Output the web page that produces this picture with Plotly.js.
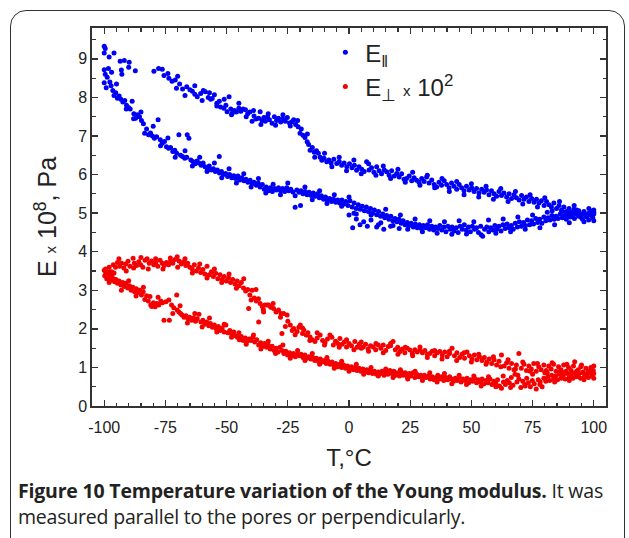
<!DOCTYPE html>
<html><head><meta charset="utf-8">
<script src="https://cdn.plot.ly/plotly-3.0.1.min.js"></script>
<style>
html,body{margin:0;padding:0;background:#fff;width:629px;height:538px;overflow:hidden;}
#frame{position:absolute;left:10px;top:10px;width:615px;height:580px;border:1.5px solid #333;border-radius:16px;box-sizing:border-box;}
#chart{position:absolute;left:0;top:0;width:629px;height:538px;}
#caption{position:absolute;left:18px;top:478px;width:605px;font-family:'Open Sans',sans-serif;font-size:19.5px;line-height:26px;color:#222;white-space:nowrap;letter-spacing:-0.2px;}
#caption b{font-weight:700;}
</style></head>
<body>
<div id="frame"></div>
<div id="chart"></div>
<div id="caption"><b>Figure 10 Temperature variation of the Young modulus.</b> It was<br>measured parallel to the pores or perpendicularly.</div>
<script>
// E parallel (x1e8 Pa): heating branch (lower) [T, E]
const parallelHeating = [[-100,8.72],[-100,8.38],[-99.6,8.6],[-99.2,8.25],[-98.8,8.52],[-98.3,8.75],[-97.7,8.4],[-97.2,8.3],[-96.5,8.18],[-96,8.05],[-95.3,8.12],[-94.6,7.98],[-93.9,8.04],[-93.2,7.95],[-92.4,7.88],[-91.6,7.92],[-90.9,7.8],[-90.1,7.74],[-89.4,7.7],[-88.6,7.9],[-87.9,7.58],[-87.2,7.46],[-86.4,7.55],[-85.6,7.5],[-84.8,7.4],[-84,7.32],[-83.5,7.07],[-82.7,7.18],[-81.9,7.03],[-81.1,7.08],[-80.3,7.0],[-79.5,6.94],[-78.6,6.98],[-78,7.42],[-77.1,6.9],[-76.3,6.81],[-75.4,6.86],[-74.6,6.72],[-73.7,6.68],[-72.9,6.7],[-72,6.6],[-71.2,6.63],[-70.4,6.55],[-69.5,7.03],[-68.8,6.5],[-68,6.47],[-67.1,6.42],[-66.3,6.45],[-66.1,7.03],[-65.4,6.94],[-64.6,6.38],[-63.8,6.34],[-62.9,6.28],[-62.1,6.35],[-61.3,6.3],[-60.4,6.24],[-59.6,6.3],[-58.8,6.2],[-57.9,6.16],[-57.1,6.22],[-56.3,6.12],[-55.4,6.15],[-54.6,6.08],[-53.8,6.12],[-53,6.47],[-52.9,6.04],[-52.1,6.08],[-51.3,6.0],[-50.4,6.03],[-49.6,5.95],[-48.8,6.0],[-47.9,5.92],[-47.1,5.97],[-46.3,5.9],[-45.4,5.96],[-44.6,5.86],[-43.8,5.92],[-42.9,5.84],[-42.1,5.88],[-41.3,5.8],[-40.4,5.85],[-39.6,5.76],[-38.8,5.8],[-37.9,5.72],[-37.1,5.78],[-36.3,5.68],[-35.4,5.74],[-34.6,5.62],[-33.8,5.68],[-32.9,5.58],[-32.1,5.66],[-31.3,5.56],[-30.4,5.64],[-29.6,5.6],[-28.8,5.66],[-27.9,5.58],[-27.1,5.64],[-26.3,5.56],[-25.4,5.66],[-24.6,5.58],[-23.8,5.62],[-22.9,5.55],[-22,5.15],[-21.3,5.6],[-20.4,5.54],[-19.8,5.2],[-19.6,5.58],[-18.8,5.5],[-17.9,5.56],[-17.1,5.48],[-16.3,5.54],[-15.4,5.46],[-14.6,5.52],[-13.8,5.44],[-12.9,5.5],[-12.1,5.4],[-11.3,5.45],[-10.4,5.36],[-9.6,5.42],[-8.8,5.32],[-7.9,5.38],[-7.1,5.3],[-6.3,5.36],[-5.4,5.28],[-4.6,5.34],[-3.8,5.26],[-2.9,5.34],[-2.1,5.24],[-1.3,5.3],[-0.4,5.2],[0.4,5.32],[1.3,5.16],[2.1,5.26],[2.9,5.12],[3.8,5.22],[4.6,5.1],[5.4,5.18],[6.3,5.06],[7.1,5.16],[7.9,5.04],[8.8,5.12],[9.6,5.0],[10.4,5.08],[11.3,4.96],[12.1,5.04],[12.9,4.92],[13.8,4.98],[14.6,4.88],[15.4,4.94],[16.3,4.84],[17.1,4.92],[17.9,4.8],[18.8,4.86],[19.6,4.78],[20.4,4.84],[21.3,4.74],[22.1,4.8],[22.9,4.7],[23.8,4.76],[24.6,4.68],[25.4,4.74],[26.3,4.64],[27.1,4.72],[27.9,4.62],[28.8,4.7],[29.6,4.6],[30.4,4.68],[31.3,4.62],[32.1,4.7],[32.9,4.58],[33.8,4.66],[34.6,4.56],[35.4,4.64],[36.3,4.6],[37.1,4.68],[37.9,4.56],[38.8,4.64],[39.6,4.52],[40.4,4.66],[41.3,4.58],[42.1,4.64],[42.9,4.54],[43.8,4.62],[44.6,4.5],[45.4,4.66],[46.3,4.58],[47.1,4.7],[47.9,4.56],[48.8,4.64],[49.6,4.52],[50.4,4.66],[51.3,4.58],[52.1,4.62],[52.9,4.5],[53.8,4.66],[54.6,4.4],[55.4,4.58],[56.3,4.64],[57.1,4.52],[57.9,4.62],[58.8,4.56],[59.6,4.68],[60.4,4.58],[61.3,4.66],[62.1,4.54],[62.9,4.7],[63.8,4.6],[64.6,4.72],[65.4,4.62],[66.3,4.68],[67.1,4.58],[67.9,4.74],[68.8,4.64],[69.6,4.78],[70.4,4.66],[71.3,4.76],[72.1,4.68],[72.9,4.82],[73.8,4.7],[74.6,4.8],[75.4,4.72],[76.3,4.86],[77.1,4.76],[77.9,4.84],[78.8,4.74],[79.6,4.9],[80.4,4.8],[81.3,4.88],[82.1,4.82],[82.9,4.94],[83.8,4.84],[84.6,4.92],[85.4,4.86],[86.3,4.98],[87.1,4.88],[87.9,4.94],[88.8,4.84],[89.6,5.0],[90.4,4.9],[91.3,4.96],[92.1,4.86],[92.9,5.02],[93.8,4.92],[94.6,4.98],[95.4,4.84],[96.3,5.0],[97.1,4.9],[97.9,4.82],[98.8,4.96],[99.6,4.88],[100,5.02],[100,4.8],
[1.5,4.62],[4.5,4.7],[7.5,4.66],[11.3,4.64],[14.2,4.58],[17,4.66],[20.5,4.6],[3,4.85],[9,4.82],[13,4.75],[0,4.95],[2,5.0]];
const parallelHeatingSpread = [[-97,8.65],[-95,8.35],[-91,7.7],[-88,7.45],[-85,7.62],[-80,7.25],[-77,6.75],[-74,6.95],[-71,6.45],[-67,6.62],[-64,6.22],[-61,6.45],[-58,6.08],[-55,6.3],[-52,5.92],[-49,6.15],[-46,5.78],[-43,6.02],[-40,5.68],[-37,5.9],[-34,5.52],[-31,5.75],[-28,5.48],[-25,5.78],[-22,5.45],[-18,5.68],[-15,5.35],[-12,5.58],[-9,5.25],[-6,5.48],[-3,5.18],[0,5.42],[3,4.98],[6,4.78],[9,4.95],[12,4.7],[15,5.1],[18,4.68],[21,4.95],[24,4.58],[27,4.85],[30,4.52],[33,4.8],[36,4.48],[39,4.78],[42,4.45],[45,4.8],[48,4.46],[51,4.78],[54,4.44],[57,4.82],[60,4.48],[63,4.85],[66,4.52],[69,4.9],[72,4.58],[75,4.95],[78,4.62],[81,5.02],[84,4.7],[87,5.05],[90,4.75],[93,5.08],[96,4.78],[99,5.05]];

// E parallel: cooling branch (upper) [T, E]
const parallelCooling = [[-100,9.33],[-100,9.15],[-99.6,9.27],[-96,9.15],[-93.5,8.94],[-93,8.71],[-92.8,8.6],[-91.8,8.96],[-89.8,8.91],[-87.3,8.69],[-79.7,8.68],[-77.8,8.75],[-76.3,8.73],[-75.6,8.57],[-73.6,8.5],[-72.3,8.42],[-71,8.45],[-70.5,8.24],[-69.2,8.35],[-68,8.22],[-66.3,8.28],[-65,8.2],[-64,8.16],[-63,8.08],[-62,8.02],[-60.6,8.1],[-59.5,8.18],[-58.7,8.15],[-57.5,8.0],[-56.5,7.95],[-55.9,7.97],[-55,8.07],[-54,7.85],[-53,7.9],[-52.5,7.75],[-51.1,7.72],[-50.3,7.8],[-49.8,7.63],[-49,8.02],[-48.3,7.7],[-47.7,7.59],[-46.8,7.66],[-46,7.62],[-45,7.72],[-44.2,7.64],[-43.3,7.7],[-42.3,7.68],[-41.4,7.58],[-40.5,7.62],[-39.6,7.38],[-38.8,7.52],[-38,7.44],[-36.9,7.46],[-36.3,7.63],[-35.5,7.4],[-34.8,7.48],[-34.2,7.38],[-33.3,7.5],[-32.5,7.42],[-31.4,7.33],[-30.5,7.5],[-29.6,7.4],[-28.8,7.46],[-27.9,7.36],[-27,7.44],[-26,7.38],[-25.2,7.48],[-24.3,7.34],[-23.3,7.37],[-22.6,7.42],[-21.8,7.3],[-20.8,7.24],[-20,7.07],[-19.5,7.18],[-18.8,7.02],[-18,6.96],[-17.1,6.85],[-16.5,6.78],[-15.9,6.63],[-15,6.7],[-14.2,6.58],[-13.3,6.62],[-12.5,6.55],[-11.8,6.45],[-11.1,6.37],[-10.2,6.42],[-9.1,6.33],[-8.2,6.38],[-7.3,6.3],[-6.2,6.4],[-5,6.29],[-4,6.34],[-3,6.24],[-2,6.3],[-0.9,6.2],[0.2,6.28],[1.2,6.18],[2.2,6.24],[3.1,6.11],[4.1,6.2],[5.2,6.14],[6.2,6.08],[7.2,6.33],[8.2,6.12],[9.2,6.18],[10.2,6.06],[11.3,6.2],[12.3,6.1],[13.3,6.02],[14.4,6.12],[15.4,6.07],[16.4,5.98],[17.4,6.1],[18.5,5.96],[19.5,6.03],[20.5,5.94],[21.5,6.02],[22.5,5.88],[23.5,5.9],[24.6,5.96],[25.6,5.84],[26.6,5.92],[27.6,5.85],[28.6,5.8],[29.7,5.9],[30.7,5.82],[31.7,5.94],[32.7,5.78],[33.8,5.86],[34.8,5.74],[35.8,5.68],[36.8,5.8],[37.8,5.72],[38.9,5.84],[39.9,5.74],[40.9,5.66],[41.9,5.78],[42.9,5.7],[44,5.62],[45,5.74],[46,5.66],[47,5.58],[48,5.7],[49.1,5.6],[50.1,5.66],[51.1,5.56],[52.1,5.64],[53.1,5.52],[54.2,5.62],[55.2,5.54],[56.2,5.6],[57.2,5.48],[58.2,5.58],[59.3,5.5],[60.3,5.44],[61.3,5.56],[62.3,5.46],[63.3,5.52],[64.4,5.42],[65.4,5.5],[66.4,5.38],[67.4,5.48],[68.4,5.4],[69.5,5.34],[70.5,5.46],[71.5,5.36],[72.5,5.42],[73.5,5.3],[74.6,5.38],[75.6,5.28],[76.6,5.36],[77.6,5.26],[78.6,5.32],[79.7,5.2],[80.7,5.3],[81.7,5.22],[82.7,5.16],[83.7,5.26],[84.8,5.12],[85.8,5.2],[86.8,5.08],[87.8,5.16],[88.8,5.04],[89.9,5.12],[90.9,5.02],[91.9,5.1],[92.9,4.98],[93.9,5.06],[95,4.96],[96,5.04],[97,4.92],[98,5.0],[99,4.94],[100,5.08],[100,4.98]];
const parallelCoolingSpread = [[-98,9.05],[-90,8.78],[-74,8.62],[-70,8.55],[-67,8.05],[-63,8.3],[-60,7.92],[-57,8.12],[-54,7.78],[-51,7.95],[-48,7.55],[-45,7.85],[-42,7.5],[-39,7.66],[-36,7.3],[-33,7.58],[-30,7.28],[-27,7.55],[-24,7.26],[-21,7.4],[-17,7.05],[-14,6.45],[-10,6.55],[-7,6.2],[-4,6.45],[-1,6.1],[2,6.38],[5,6.02],[8,6.28],[11,5.98],[14,6.22],[17,5.9],[20,6.14],[23,5.8],[26,6.06],[29,5.72],[32,5.98],[35,5.66],[38,5.9],[41,5.56],[44,5.82],[47,5.48],[50,5.76],[53,5.42],[56,5.7],[59,5.36],[62,5.64],[65,5.3],[68,5.56],[71,5.24],[74,5.48],[77,5.16],[80,5.4],[83,5.06],[86,5.3],[89,4.95],[92,5.2],[95,4.88],[98,5.12]];

// E perpendicular x 100 (x1e8 Pa): heating branch (lower) [T, E]
const perpHeating = [[-100,3.52],[-99.8,3.38],[-99.4,3.46],[-99,3.3],[-98.6,3.42],[-98.2,3.34],[-97.8,3.48],[-97.4,3.26],[-96.9,3.38],[-96.4,3.3],[-95.8,3.22],[-95.2,3.28],[-94.6,3.18],[-93.9,3.24],[-93.2,3.14],[-92.5,3.2],[-91.8,3.1],[-91.1,3.18],[-90.4,3.06],[-89.7,3.12],[-89,3.0],[-88.3,3.08],[-87.6,2.96],[-86.9,3.04],[-86.2,2.94],[-85.5,3.0],[-84.8,2.88],[-84.1,2.96],[-83.4,2.76],[-82.7,2.86],[-82,2.72],[-81.3,2.84],[-80.6,2.58],[-79.9,2.68],[-79.2,2.57],[-78.5,2.66],[-77.7,2.62],[-76.9,2.72],[-76.2,2.68],[-75.6,2.22],[-74.8,2.7],[-73.6,2.75],[-73.4,2.22],[-72.5,2.62],[-71.6,2.55],[-70.4,2.88],[-70.2,2.49],[-69.5,2.44],[-68.8,2.4],[-68.2,2.36],[-67.4,2.3],[-66.6,2.34],[-65.8,2.26],[-65.1,2.3],[-64.3,2.22],[-63.5,2.28],[-62.7,2.2],[-62,2.26],[-61.3,2.38],[-60.5,2.18],[-59.7,2.22],[-58.9,2.12],[-58.1,2.18],[-57.3,2.08],[-56.6,2.14],[-55.8,2.04],[-55,2.1],[-54.2,2.0],[-53.4,2.06],[-52.6,1.96],[-51.8,2.02],[-51,1.92],[-50.3,2.1],[-49.5,1.9],[-48.7,1.96],[-47.9,1.86],[-47.1,1.92],[-46.3,1.82],[-45.6,1.78],[-44.8,1.72],[-44,1.8],[-43.2,1.7],[-42.4,1.76],[-41.6,1.68],[-40.8,1.74],[-40,1.7],[-39.3,1.78],[-38.5,1.66],[-37.7,1.72],[-36.9,1.58],[-36.1,1.64],[-35.3,1.54],[-34.5,1.62],[-33.7,1.52],[-33,1.58],[-32.2,1.48],[-31.4,1.55],[-30.6,1.44],[-29.8,1.5],[-29,1.4],[-28.2,1.52],[-27.4,1.44],[-26.6,1.36],[-25.8,1.42],[-25.1,1.32],[-24.3,1.38],[-23.5,1.3],[-22.7,1.36],[-21.9,1.28],[-21.1,1.34],[-20.3,1.3],[-19.6,1.34],[-18.8,1.26],[-18,1.32],[-17.2,1.24],[-16.4,1.28],[-15.6,1.22],[-14.8,1.26],[-14,1.18],[-13.3,1.24],[-12.5,1.16],[-11.7,1.22],[-10.9,1.14],[-10.1,1.18],[-9.3,1.1],[-8.5,1.16],[-7.7,1.08],[-6.9,1.14],[-6.1,1.04],[-5.4,1.1],[-4.6,1.02],[-3.8,1.08],[-3,1.0],[-2.2,1.06],[-1.4,0.98],[-0.6,1.04],[0.2,0.96],[1,1.02],[1.8,0.94],[2.5,1.0],[3.3,0.92],[4.1,0.98],[4.9,0.9],[5.7,0.96],[6.5,0.88],[7.3,0.94],[8,0.86],[8.8,0.92],[9.6,0.84],[10.4,0.9],[11.2,0.82],[12,0.88],[12.8,0.84],[13.5,0.9],[14.3,0.8],[15.1,0.88],[15.9,0.82],[16.7,0.92],[17.5,0.84],[18.3,0.9],[19,0.8],[19.8,0.86],[20.6,0.78],[21.4,0.88],[22.2,0.8],[23,0.86],[23.8,0.76],[24.6,0.84],[25.3,0.78],[26.1,0.86],[26.9,0.74],[27.7,0.82],[28.5,0.76],[29.3,0.8],[30.1,0.72],[30.8,0.8],[31.6,0.74],[32.4,0.78],[33.2,0.7],[34,0.76],[34.8,0.68],[35.6,0.74],[36.3,0.8],[37.1,0.7],[37.9,0.76],[38.7,0.66],[39.5,0.74],[40.3,0.68],[41.1,0.76],[41.9,0.7],[42.7,0.64],[43.4,0.72],[44.2,0.66],[45,0.74],[45.8,0.62],[46.6,0.7],[47.4,0.66],[48.2,0.72],[48.9,0.6],[49.7,0.68],[50.5,0.64],[51.3,0.72],[52.1,0.6],[52.9,0.68],[53.7,0.62],[54.4,0.7],[55.2,0.58],[56,0.66],[56.8,0.6],[57.6,0.7],[58.4,0.56],[59.2,0.64],[60,0.58],[60.7,0.68],[61.5,0.52],[62.3,0.46],[63.1,0.62],[63.9,0.56],[64.7,0.66],[65.5,0.6],[66.3,0.74],[67,0.54],[67.8,0.82],[68.6,0.62],[69.4,0.7],[70.2,0.48],[71,0.64],[71.8,0.56],[72.6,0.72],[73.3,0.6],[74.1,0.5],[74.9,0.66],[75.7,0.58],[76.5,0.44],[77.3,0.68],[78.1,0.62],[78.9,0.5],[79.6,0.72],[80.4,0.64],[81.2,0.76],[82,0.66],[82.8,0.8],[83.6,0.7],[84.4,0.78],[85.2,0.68],[85.9,0.82],[86.7,0.72],[87.5,0.8],[88.3,0.7],[89.1,0.84],[89.9,0.74],[90.7,0.82],[91.5,0.72],[92.2,0.86],[93,0.76],[93.8,0.82],[94.6,0.72],[95.4,0.86],[96.2,0.76],[97,0.82],[97.8,0.74],[98.5,0.88],[99.3,0.78],[100,0.84],[100,0.72]];
const perpHeatingSpread = [[-98,3.2],[-96,3.45],[-93,3.0],[-90,3.25],[-87,2.85],[-84,3.08],[-81,2.62],[-78,2.82],[-72,2.4],[-69,2.6],[-66,2.15],[-63,2.4],[-60,2.05],[-57,2.28],[-54,1.92],[-51,2.12],[-48,1.78],[-45,1.9],[-42,1.6],[-39,1.84],[-36,1.48],[-33,1.68],[-30,1.36],[-27,1.58],[-24,1.24],[-21,1.44],[-18,1.18],[-15,1.36],[-12,1.08],[-9,1.26],[-6,0.98],[-3,1.16],[0,0.9],[3,1.08],[6,0.82],[9,1.0],[12,0.78],[15,0.96],[18,0.74],[21,0.94],[24,0.7],[27,0.9],[30,0.66],[33,0.86],[36,0.62],[39,0.84],[42,0.58],[45,0.8],[48,0.56],[51,0.78],[54,0.52],[57,0.76],[60,0.5],[63,0.78],[66,0.48],[69,0.8],[72,0.52],[75,0.82],[78,0.56],[81,0.86],[84,0.62],[87,0.88],[90,0.66],[93,0.9],[96,0.68],[99,0.92]];

// E perpendicular x 100: cooling branch (upper) [T, E]
const perpCooling = [[-99.5,3.55],[-98,3.6],[-97,3.48],[-96.3,3.66],[-95.4,3.6],[-94.6,3.72],[-93.7,3.62],[-92.9,3.7],[-92,3.58],[-91.2,3.68],[-90.3,3.75],[-89.5,3.62],[-88.2,3.83],[-87.7,3.7],[-86.8,3.64],[-85.9,3.74],[-85.1,3.66],[-84.2,3.6],[-83.3,3.78],[-82.5,3.82],[-81.6,3.7],[-80.7,3.76],[-79.8,3.66],[-79,3.72],[-78.1,3.62],[-77.2,3.78],[-76.3,3.7],[-75.5,3.64],[-74.6,3.72],[-73.7,3.66],[-72.9,3.76],[-72,3.7],[-71.1,3.8],[-70.2,3.87],[-69.4,3.76],[-68.5,3.68],[-67.6,3.74],[-66.7,3.64],[-65.9,3.7],[-65,3.6],[-64.1,3.56],[-63.2,3.66],[-62.4,3.5],[-61.5,3.58],[-60.6,3.46],[-59.7,3.54],[-58.9,3.42],[-58,3.62],[-57.1,3.4],[-56.2,3.48],[-55.4,3.36],[-54.5,3.44],[-53.6,3.3],[-52.7,3.4],[-51.9,3.28],[-51,3.36],[-50.1,3.24],[-49.2,3.32],[-48.4,3.2],[-47.5,3.28],[-46.6,3.16],[-45.7,3.24],[-44.9,3.12],[-44,3.2],[-43.1,3.06],[-42.2,2.98],[-41.4,3.02],[-41,2.53],[-40.5,2.88],[-39.6,3.0],[-38.7,2.8],[-37.9,2.72],[-37,2.78],[-36.9,2.18],[-36.3,2.66],[-35.4,2.58],[-34.9,2.44],[-34.4,2.62],[-33.5,2.62],[-32.9,2.62],[-32,2.56],[-30.8,2.53],[-29.8,2.44],[-28.8,2.49],[-27.8,2.4],[-27.4,1.88],[-26.7,2.4],[-26,2.06],[-25.3,2.36],[-24,2.1],[-23.2,1.96],[-22.6,2.01],[-21.2,1.93],[-20.5,2.04],[-19.9,2.1],[-19,1.88],[-18.5,1.97],[-17.5,1.84],[-16.8,1.9],[-15.9,1.79],[-15,1.72],[-13.9,1.67],[-13,1.76],[-11.8,1.84],[-10.8,1.7],[-9.8,1.64],[-8.8,1.74],[-7.8,1.84],[-6.4,1.58],[-5.5,1.68],[-4.6,1.62],[-3.7,1.75],[-2.8,1.6],[-1.9,1.66],[-1,1.53],[0,1.62],[1,1.56],[2.4,1.67],[3.3,1.52],[4.2,1.6],[5,1.5],[5.8,1.53],[6.8,1.6],[7.8,1.48],[8.8,1.56],[9.9,1.53],[10.9,1.46],[12,1.58],[13,1.5],[14,1.58],[15,1.44],[16,1.54],[17,1.62],[18,1.67],[18.9,1.46],[19.9,1.52],[20.8,1.41],[21.8,1.48],[22.8,1.38],[23.8,1.5],[24.9,1.45],[25.9,1.36],[26.9,1.46],[27.9,1.4],[29,1.53],[30,1.38],[31,1.44],[32,1.34],[33,1.36],[34,1.42],[35,1.3],[36,1.38],[37.1,1.41],[38.1,1.32],[39.1,1.4],[40.1,1.28],[41.1,1.36],[42.1,1.5],[43.1,1.3],[44.1,1.38],[45.2,1.26],[46.2,1.34],[47.2,1.24],[48.2,1.4],[49.2,1.3],[50.2,1.22],[51.2,1.32],[52.2,1.2],[53.3,1.28],[54.3,1.18],[55.3,1.26],[56.3,1.14],[57.3,1.22],[58.3,1.1],[59.3,1.2],[60.3,1.06],[61.3,1.16],[62.3,1.32],[63.4,1.04],[64.4,1.12],[65.4,0.98],[66.4,1.1],[67.4,0.94],[68.4,1.06],[69.4,1.36],[70.4,0.98],[71.5,1.08],[72.5,0.92],[73.5,1.04],[74.5,0.96],[75.5,1.1],[76.5,0.9],[77.5,1.02],[78.5,0.94],[79.6,1.06],[80.6,0.92],[81.6,1.04],[82.6,0.96],[83.6,1.08],[84.6,0.9],[85.6,1.02],[86.6,0.94],[87.7,1.06],[88.7,0.9],[89.7,1.0],[90.7,0.92],[91.7,1.04],[92.2,1.15],[93.7,0.94],[94.7,1.02],[95.7,0.88],[96.8,0.98],[97.8,0.9],[98.8,1.0],[99.8,0.92],[100,1.04]];
const perpCoolingSpread = [[-97,3.4],[-94,3.82],[-91,3.5],[-88,3.58],[-85,3.85],[-82,3.55],[-79,3.82],[-76,3.55],[-73,3.84],[-70,3.6],[-67,3.82],[-64,3.45],[-61,3.68],[-58,3.32],[-55,3.55],[-52,3.2],[-49,3.42],[-46,3.05],[-43,3.3],[-40,2.75],[-38,3.02],[-35,2.5],[-31,2.66],[-28,2.3],[-25,2.2],[-22,1.85],[-19,2.02],[-16,1.7],[-13,1.9],[-10,1.58],[-7,1.78],[-4,1.52],[-1,1.72],[2,1.46],[5,1.66],[8,1.42],[11,1.62],[14,1.38],[17,1.56],[20,1.34],[23,1.52],[26,1.3],[29,1.46],[32,1.26],[35,1.44],[38,1.22],[41,1.42],[44,1.18],[47,1.38],[50,1.14],[53,1.34],[56,1.08],[59,1.28],[62,1.02],[65,1.2],[68,0.96],[71,1.14],[74,0.9],[77,1.1],[80,0.86],[83,1.12],[86,0.88],[89,1.08],[92,0.84],[95,1.06],[98,0.86]];

const seriesNames = ["E<sub>‖</sub>", "E<sub>⊥</sub> <span style='font-size:15px'>x</span> 10<sup>2</sup>"];
const xTickVals = [-100, -75, -50, -25, 0, 25, 50, 75, 100];
const xTickText = ['-100', '-75', '-50', '-25', '0', '25', '50', '75', '100'];
const yTickVals = [0, 1, 2, 3, 4, 5, 6, 7, 8, 9];

const par = parallelHeating.concat(parallelHeatingSpread, parallelCooling, parallelCoolingSpread);
const perp = perpHeating.concat(perpHeatingSpread, perpCooling, perpCoolingSpread);
const marker = (c) => ({color: c, size: 5, line: {width: 0}});
const traces = [
  {type:'scatter', mode:'markers', name: seriesNames[0], x: par.map(p=>p[0]), y: par.map(p=>p[1]), marker: marker('#0000f5')},
  {type:'scatter', mode:'markers', name: seriesNames[1], x: perp.map(p=>p[0]), y: perp.map(p=>p[1]), marker: marker('#f50000')}
];
const fam = 'Liberation Sans, Arial, sans-serif';
const axisCommon = {
  ticks:'inside', ticklen:6, tickwidth:1.3, tickcolor:'#333',
  showline:true, linewidth:1.6, linecolor:'#333', mirror:'ticks',
  showgrid:false, zeroline:false,
  tickfont:{family:fam, size:16, color:'#222'}
};
const layout = {
  width:629, height:538,
  margin:{l:92, r:23, t:28, b:132},
  paper_bgcolor:'rgba(0,0,0,0)', plot_bgcolor:'#fff',
  font:{family:fam, color:'#222'},
  showlegend:true,
  legend:{x:0.454, y:0.994, xanchor:'left', yanchor:'top', bgcolor:'rgba(0,0,0,0)',
    font:{size:24, family:fam, color:'#222'}, tracegroupgap:0},
  xaxis: Object.assign({}, axisCommon, {
    range:[-105,105], tickmode:'array', tickvals:xTickVals, ticktext:xTickText, ticklabelstandoff:6,
    minor:{ticks:'inside', ticklen:3.5, tickwidth:1.2, tickcolor:'#333', dtick:5, tick0:0, showgrid:false},
    title:{text:'T,°C', font:{size:24, family:fam, color:'#222'}, standoff:14}
  }),
  yaxis: Object.assign({}, axisCommon, {
    range:[0,9.8], tickmode:'array', tickvals:yTickVals,
    minor:{ticks:'inside', ticklen:3.5, tickwidth:1.2, tickcolor:'#333', dtick:0.5, tick0:0, showgrid:false},
    title:{text:"E <span style='font-size:15px'>x</span> 10<sup>8</sup>, Pa", font:{size:25, family:fam, color:'#222'}, standoff:14}
  })
};
Plotly.newPlot('chart', traces, layout, {displayModeBar:false, staticPlot:true});
</script>
</body></html>
